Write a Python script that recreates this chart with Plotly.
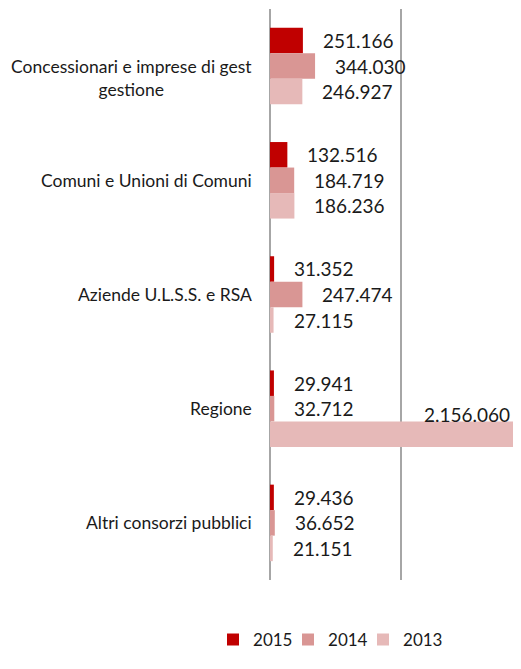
import plotly.graph_objects as go

categories = ["Concessionari e imprese di gestione", "Comuni e Unioni di Comuni",
              "Aziende U.L.S.S. e RSA", "Regione", "Altri consorzi pubblici"]
cat_labels = ["Concessionari e imprese di gest<br>gestione", "Comuni e Unioni di Comuni",
              "Aziende U.L.S.S. e RSA", "Regione", "Altri consorzi pubblici"]
years = ["2015", "2014", "2013"]
v2015 = [251166, 132516, 31352, 29941, 29436]
v2014 = [344030, 184719, 247474, 32712, 36652]
v2013 = [246927, 186236, 27115, 2156060, 21151]
colors = ["#C00000", "#D99694", "#E6B9B8"]

# the page body has an 8px margin, so the figure is drawn smaller
W, H = 513, 653
ml, mr, mt, mb = 262, 0, 1, 81
xmax = 1916000
bargap = 0.33

band = (H - mt - mb) / len(categories)
bar_h = band * (1 - bargap) / 3

fig = go.Figure()
series = [v2015, v2014, v2013]
for k, (name, vals, col) in enumerate(zip(years, series, colors)):
    fig.add_trace(go.Bar(y=categories, x=vals, name=name, orientation="h",
                         marker=dict(color=col, line=dict(width=0)),
                         legendwidth=30 if k < 2 else 42))

def fmt(v):
    return "{:,}".format(v).replace(",", ".")

ann = []
for i, vals in enumerate(series):
    shift = (1 - i) * bar_h
    for c, v in zip(categories, vals):
        if v > xmax:
            # label of the clipped bar sits at the right edge, above the bar
            ann.append(dict(x=xmax, y=c, text=fmt(v), showarrow=False, xanchor="right",
                            yshift=-6, xshift=-9, font=dict(size=19)))
        else:
            ann.append(dict(x=v, y=c, text=fmt(v), showarrow=False, xanchor="left",
                            yshift=shift, xshift=18, font=dict(size=19)))

for c, lab in zip(categories, cat_labels):
    multi = "<br>" in lab
    ann.append(dict(xref="paper", x=0, y=c, text=lab, showarrow=False, xanchor="right",
                    yanchor="top" if multi else "middle", yshift=12 if multi else 0,
                    xshift=-16, align="center", font=dict(size=17.5)))

fig.update_layout(
    width=W, height=H,
    margin=dict(l=ml, r=mr, t=mt, b=mb),
    paper_bgcolor="white", plot_bgcolor="white",
    font=dict(family="Lato", color="#1a1a1a"),
    barmode="group", bargap=bargap, bargroupgap=0,
    annotations=ann,
    showlegend=True,
    legend=dict(orientation="h", x=-0.227, xanchor="left", y=-0.105, yanchor="middle",
                font=dict(size=17), traceorder="normal"),
    xaxis=dict(range=[0, xmax], dtick=1000000, showgrid=True, gridcolor="#A6A6A6",
               gridwidth=1.5, zeroline=True, zerolinecolor="#A6A6A6", zerolinewidth=1.5,
               showticklabels=False, ticks="", fixedrange=True),
    yaxis=dict(autorange="reversed", showticklabels=False, ticks="", showgrid=False,
               zeroline=False, fixedrange=True),
)

fig.write_html("out.html")
